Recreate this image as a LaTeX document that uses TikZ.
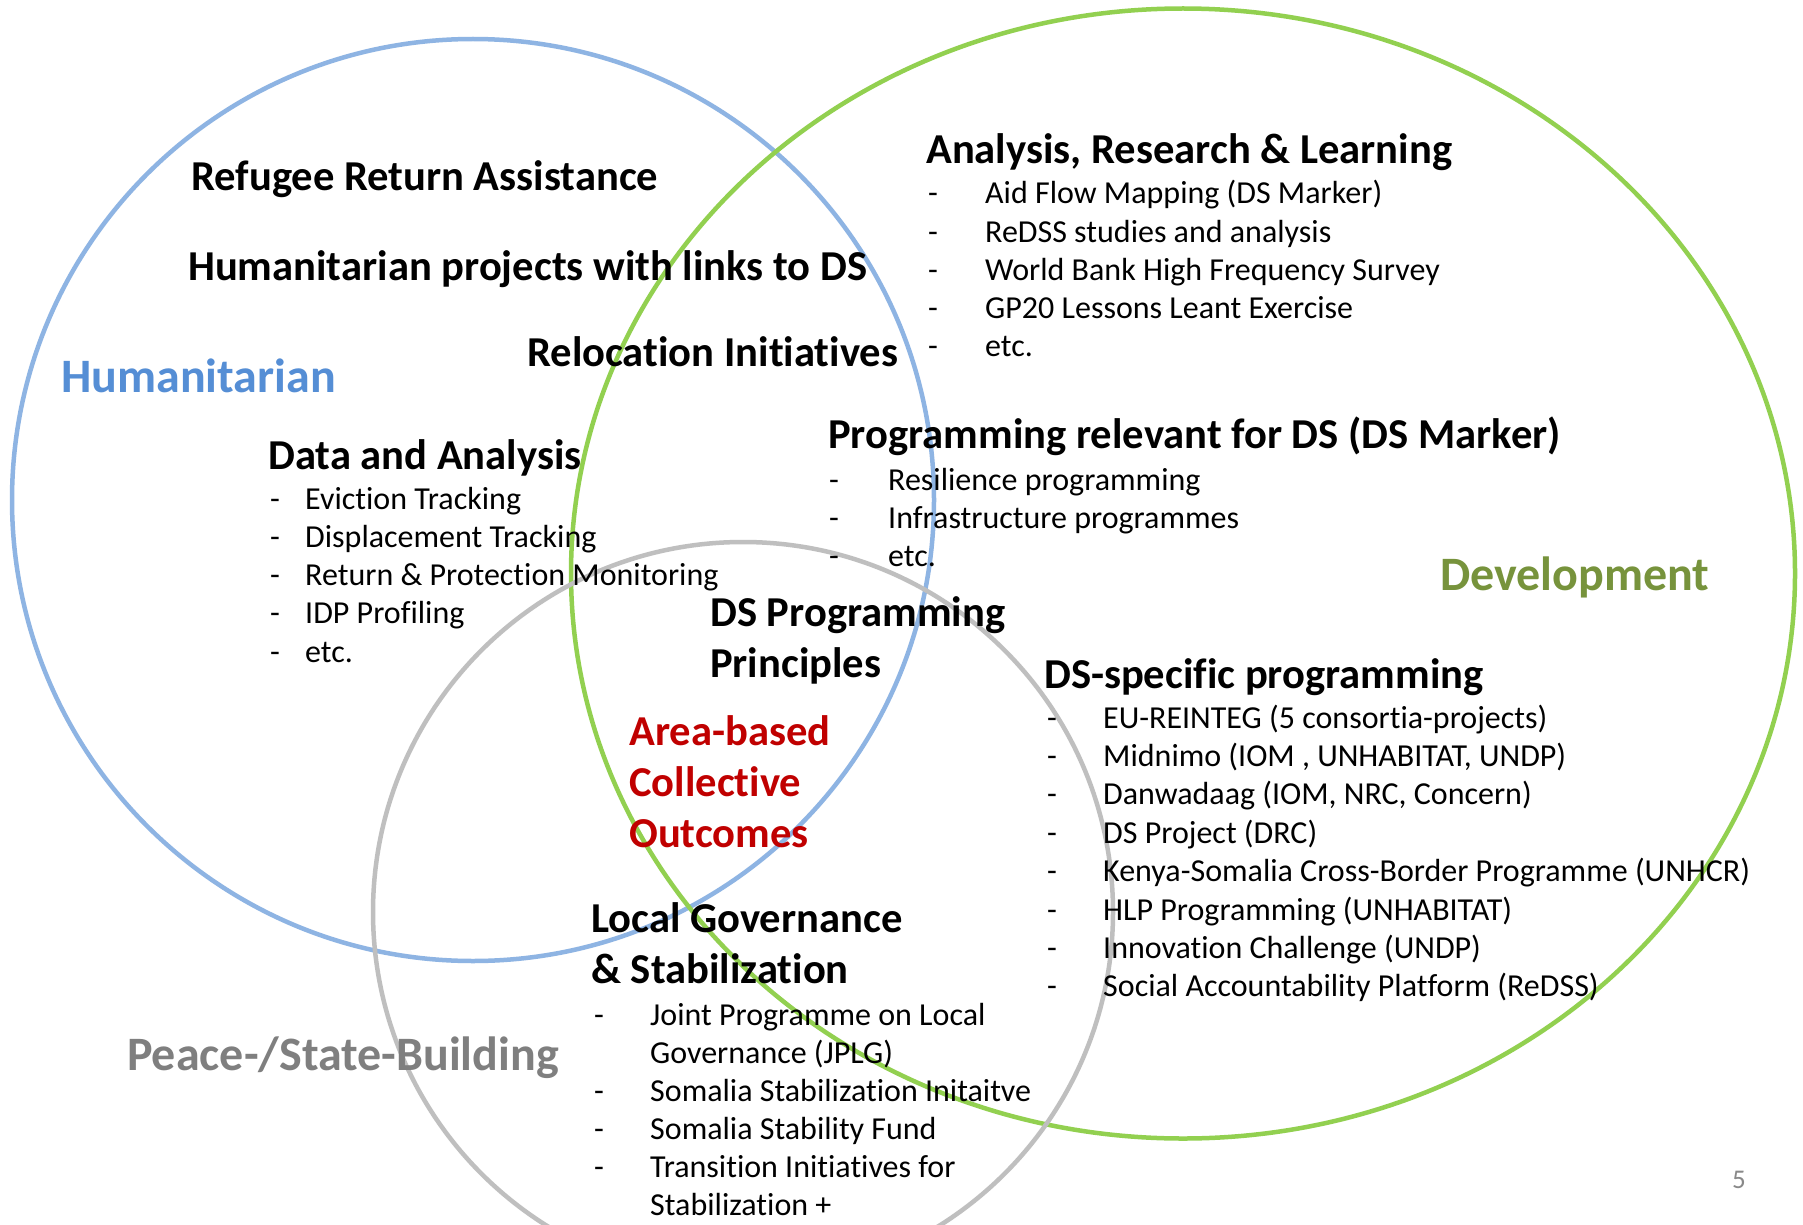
\documentclass[tikz,border=0pt]{standalone}
\usepackage{fontspec}
\setmainfont{Carlito}[Ligatures=NoCommon]
\definecolor{bluecirc}{HTML}{8EB4E3}
\definecolor{greencirc}{HTML}{92D050}
\definecolor{graycirc}{HTML}{BFBFBF}
\definecolor{bluetext}{HTML}{558ED5}
\definecolor{greentext}{HTML}{77933C}
\definecolor{graytext}{HTML}{7F7F7F}
\definecolor{redtext}{HTML}{C00000}
\definecolor{pagenum}{HTML}{898989}
\tikzset{
  circ/.style={line width=4.5pt},
  head/.style={inner sep=0pt, anchor=base west, font=\fontsize{42.6}{51}\selectfont\bfseries},
  cat/.style={inner sep=0pt, anchor=base west, font=\fontsize{48}{58}\selectfont\bfseries},
  li/.style={inner sep=0pt, anchor=base west, font=\fontsize{32}{38.4}\selectfont},
}
\begin{document}
\begin{tikzpicture}[x=1pt,y=-1pt]
\useasboundingbox (0,0) rectangle (1803,1225);
\fill[white] (0,0) rectangle (1803,1225);
\clip (0,0) rectangle (1803,1225);
% circles
\draw[circ, bluecirc] (473,500) circle[radius=461];
\draw[circ, greencirc] (1183,573.5) ellipse[x radius=612, y radius=565];
\draw[circ, graycirc] (743,912) circle[radius=370];
% category labels
\node[cat, text=bluetext] (hum) at (61,392) {Humanitarian};
\node[cat, text=greentext] (dev) at (1440,590) {Development};
\node[cat, text=graytext] (psb) at (127,1070) {Peace-/State-Building};
% humanitarian headings
\node[head] (rra) at (191,190) {Refugee Return Assistance};
\node[head] (hpl) at (188,280) {Humanitarian projects with links to DS};
\node[head] (rel) at (527,366) {Relocation Initiatives};
\node[head] (daa) at (268,469) {Data and Analysis};
\foreach \t [count=\i] in {Eviction Tracking, Displacement Tracking, Return \& Protection Monitoring, IDP Profiling, etc.} {
  \node[li] (dad\i) at (270,{509+38.3*(\i-1)}) {-};
  \node[li] (dat\i) at (305,{509+38.3*(\i-1)}) {\t};
}
% analysis
\node[head] (arl) at (926,164) {Analysis, Research \& Learning};
\foreach \t [count=\i] in {Aid Flow Mapping (DS Marker), ReDSS studies and analysis, World Bank High Frequency Survey, GP20 Lessons Leant Exercise, etc.} {
  \node[li] (ard\i) at (928,{204+38*(\i-1)}) {-};
  \node[li] (art\i) at (985,{204+38*(\i-1)}) {\t};
}
% programming relevant
\node[head] (prd) at (828,448) {Programming relevant for DS (DS Marker)};
\foreach \t [count=\i] in {Resilience programming, Infrastructure programmes, etc.} {
  \node[li] (prdd\i) at (829,{490+38*(\i-1)}) {-};
  \node[li] (prdt\i) at (888,{490+38*(\i-1)}) {\t};
}
% DS programming principles
\node[head] (dsp1) at (710,626) {DS Programming};
\node[head] (dsp2) at (710,677) {Principles};
\node[head, text=redtext] (abc1) at (629,745) {Area-based};
\node[head, text=redtext] (abc2) at (629,796) {Collective};
\node[head, text=redtext] (abc3) at (629,847) {Outcomes};
% local governance
\node[head] (lgs1) at (591,932) {Local Governance};
\node[head] (lgs2) at (591,983) {\& Stabilization};
\node[li] (lgd1) at (594,1025) {-};
\node[li] (lgt1) at (650,1025) {Joint Programme on Local};
\node[li] (lgt2) at (650,1063) {Governance (JPLG)};
\node[li] (lgd3) at (594,1101) {-};
\node[li] (lgt3) at (650,1101) {Somalia Stabilization Initaitve};
\node[li] (lgd4) at (594,1139) {-};
\node[li] (lgt4) at (650,1139) {Somalia Stability Fund};
\node[li] (lgd5) at (594,1177) {-};
\node[li] (lgt5) at (650,1177) {Transition Initiatives for};
\node[li] (lgt6) at (650,1215) {Stabilization +};
% DS-specific
\node[head] (dss) at (1044,688) {DS-specific programming};
\foreach \t [count=\i] in {EU-REINTEG (5 consortia-projects), {Midnimo (IOM , UNHABITAT, UNDP)}, {Danwadaag (IOM, NRC, Concern)}, DS Project (DRC), Kenya-Somalia Cross-Border Programme (UNHCR), HLP Programming (UNHABITAT), Innovation Challenge (UNDP), Social Accountability Platform (ReDSS)} {
  \node[li] (dssd\i) at (1047,{728+38.4*(\i-1)}) {-};
  \node[li] (dsst\i) at (1103,{728+38.4*(\i-1)}) {\t};
}
% page number
\node[inner sep=0pt, anchor=base west, font=\fontsize{27}{32}\selectfont, text=pagenum] (pg) at (1732,1188) {5};
\end{tikzpicture}
\end{document}
